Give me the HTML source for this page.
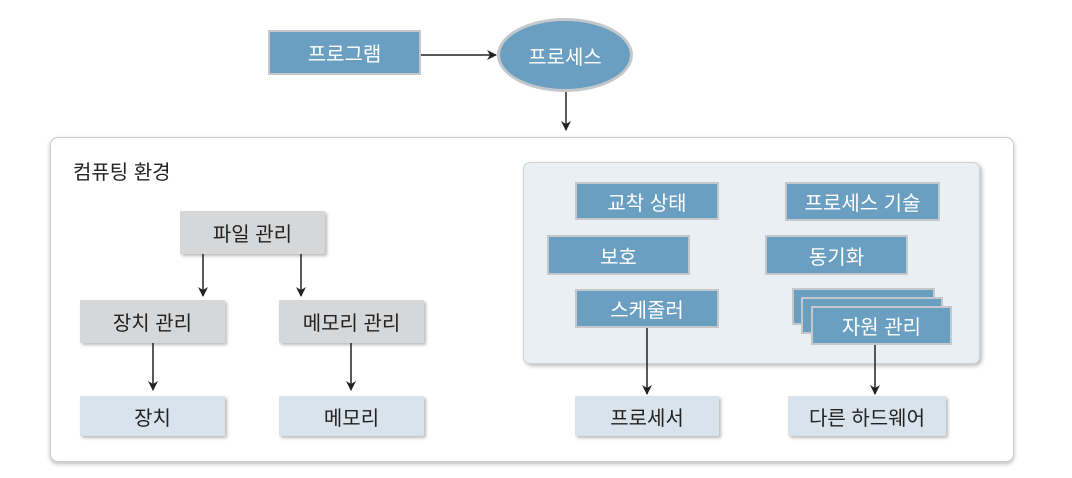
<!DOCTYPE html>
<html><head><meta charset="utf-8"><style>
body{margin:0;width:1072px;height:478px;background:#fff;position:relative;overflow:hidden;font-family:"Liberation Sans","Noto Sans CJK KR",sans-serif;}
.b{position:absolute;display:flex;align-items:center;justify-content:center;font-size:20px;box-sizing:border-box;}
.blue{background:#6a9fc1;color:#fff;border:2px solid #c4c8cc;}
.gray{background:#d6d7d8;color:#222;box-shadow:2px 2px 3px #bbb;}
.lb{background:#d9e3ec;color:#222;box-shadow:2px 2px 3px #bbb;}
</style></head><body>
<div style="position:absolute;left:50px;top:137px;width:964px;height:325px;border:1px solid #ccc;border-radius:8px;box-shadow:0 2px 4px #bbb;box-sizing:border-box;background:#fff"></div>
<div style="position:absolute;left:523px;top:162px;width:457px;height:202px;border:1px solid #d0d4d8;border-radius:7px;box-shadow:2px 2px 4px #bbb;box-sizing:border-box;background:#eaeff4"></div>
<div style="position:absolute;left:73px;top:156px;font-size:20px;color:#222">컴퓨팅 환경</div>

<div class="b blue" style="left:268px;top:30px;width:153px;height:45px">프로그램</div>
<div class="b blue" style="left:497px;top:18px;width:136px;height:74px;border-radius:50%;border:3px solid #c4c8cc">프로세스</div>

<div class="b gray" style="left:180px;top:211px;width:145px;height:43px">파일 관리</div>
<div class="b gray" style="left:80px;top:300px;width:145px;height:43px">장치 관리</div>
<div class="b gray" style="left:279px;top:300px;width:145px;height:43px">메모리 관리</div>
<div class="b lb" style="left:80px;top:396px;width:145px;height:40px">장치</div>
<div class="b lb" style="left:279px;top:396px;width:145px;height:40px">메모리</div>

<div class="b blue" style="left:575px;top:182px;width:144px;height:38px">교착 상태</div>
<div class="b blue" style="left:785px;top:182px;width:155px;height:39px">프로세스 기술</div>
<div class="b blue" style="left:547px;top:235px;width:143px;height:40px">보호</div>
<div class="b blue" style="left:765px;top:235px;width:143px;height:40px">동기화</div>
<div class="b blue" style="left:575px;top:289px;width:144px;height:39px">스케줄러</div>
<div class="b blue" style="left:792px;top:288px;width:143px;height:37px"></div>
<div class="b blue" style="left:801px;top:297px;width:142px;height:37px"></div>
<div class="b blue" style="left:811px;top:306px;width:141px;height:39px">자원 관리</div>
<div class="b lb" style="left:575px;top:396px;width:144px;height:40px">프로세서</div>
<div class="b lb" style="left:788px;top:396px;width:158px;height:40px">다른 하드웨어</div>

<svg width="1072" height="478" style="position:absolute;left:0;top:0">
<defs><marker id="a" markerWidth="10" markerHeight="10" refX="9" refY="5" orient="auto" markerUnits="userSpaceOnUse"><path d="M0,0 L10,5 L0,10 L3,5z" fill="#222"/></marker></defs>
<g stroke="#222" stroke-width="1.5" marker-end="url(#a)">
<line x1="421" y1="55" x2="496" y2="55"/>
<line x1="566" y1="92" x2="566" y2="130"/>
<line x1="203" y1="254" x2="203" y2="296"/>
<line x1="301" y1="254" x2="301" y2="296"/>
<line x1="153" y1="343" x2="153" y2="390"/>
<line x1="351" y1="343" x2="351" y2="390"/>
<line x1="647" y1="328" x2="647" y2="394"/>
<line x1="875" y1="345" x2="875" y2="394"/>
</g></svg>
</body></html>
